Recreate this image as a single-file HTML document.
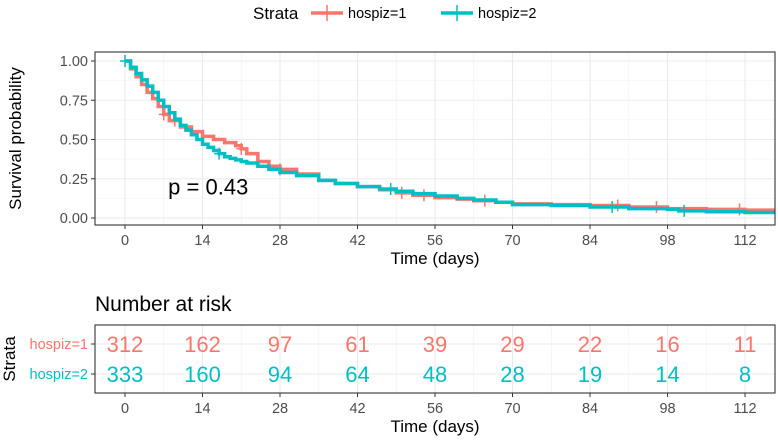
<!DOCTYPE html>
<html><head><meta charset="utf-8">
<style>
body{margin:0;background:#fff;}
svg{display:block;font-family:"Liberation Sans",sans-serif;}
</style></head>
<body>
<svg id="chart" width="778" height="442" viewBox="0 0 778 442">
</svg>
<script>
const timeTicks=[0,14,28,42,56,70,84,98,112];
const probTicks=[0,0.25,0.5,0.75,1];
const probTickLabels=["0.00","0.25","0.50","0.75","1.00"];
const redTimes=[0,1,2,3,4,5,6,7,8,10,12,14,16,18,20,21,22,24,26,28,31,35,38,42,46,49,52,56,60,63,67,70,77,84,91,98,105,112,118];
const redSurv=[1,0.95,0.9,0.85,0.8,0.76,0.71,0.66,0.62,0.58,0.55,0.52,0.5,0.48,0.46,0.44,0.41,0.36,0.33,0.31,0.28,0.24,0.22,0.20,0.18,0.16,0.145,0.13,0.12,0.11,0.10,0.09,0.085,0.08,0.07,0.06,0.055,0.05,0.05];
const tealTimes=[0,1,2,3,4,5,6,7,8,9,10,11,12,13,14,15,16,17,18,19,20,21,22,24,26,28,31,35,38,42,46,49,52,56,60,63,67,70,77,84,91,98,100,105,112,118];
const tealSurv=[1,0.96,0.92,0.88,0.84,0.8,0.75,0.71,0.67,0.63,0.59,0.56,0.53,0.5,0.47,0.45,0.43,0.41,0.39,0.38,0.37,0.36,0.35,0.33,0.31,0.29,0.27,0.24,0.22,0.20,0.185,0.17,0.155,0.14,0.125,0.115,0.10,0.085,0.08,0.07,0.06,0.055,0.045,0.04,0.035,0.035];
const redCensor=[7,9,21,28,50,54,65,89,96,111];
const tealCensor=[0,17,48,88,101];
const riskRed=[312,162,97,61,39,29,22,16,11];
const riskTeal=[333,160,94,64,48,28,19,14,8];

const RED="#F8766D",TEAL="#00BFC4";
const svg=document.getElementById('chart');
const NS="http://www.w3.org/2000/svg";
function el(tag,attrs,parent){const e=document.createElementNS(NS,tag);for(const k in attrs)e.setAttribute(k,attrs[k]);(parent||svg).appendChild(e);return e;}
function tx(x,y,s,attrs){const e=el('text',Object.assign({x:x,y:y},attrs));e.textContent=s;return e;}

const X0=95,X1=775;
const xs=t=>125+t*5.536;
const P={top:52,bottom:225};
const ys=p=>218-p*157;

let g=el('g',{});


el('rect',{x:X0,y:P.top,width:X1-X0,height:P.bottom-P.top,fill:'#fff'},g);
for(let i=0;i<timeTicks.length-1;i++){const m=xs((timeTicks[i]+timeTicks[i+1])/2);el('line',{x1:m,x2:m,y1:P.top,y2:P.bottom,stroke:'#f0f0f0','stroke-width':0.6},g);}
for(let i=0;i<probTicks.length-1;i++){const m=ys((probTicks[i]+probTicks[i+1])/2);el('line',{x1:X0,x2:X1,y1:m,y2:m,stroke:'#f0f0f0','stroke-width':0.6},g);}
timeTicks.forEach(t=>{el('line',{x1:xs(t),x2:xs(t),y1:P.top,y2:P.bottom,stroke:'#ebebeb','stroke-width':1.1},g);});
probTicks.forEach((p,i)=>{el('line',{x1:X0,x2:X1,y1:ys(p),y2:ys(p),stroke:'#ebebeb','stroke-width':1.1},g);
 el('line',{x1:X0-4,x2:X0,y1:ys(p),y2:ys(p),stroke:'#333'},g);
 const l=tx(X0-7,ys(p)+5,probTickLabels[i],{'text-anchor':'end','font-size':14.5,fill:'#4d4d4d'},);
 });
function stepPath(T,S){let d='M'+xs(T[0])+','+ys(S[0]);for(let i=1;i<T.length;i++){d+='H'+xs(T[i])+'V'+ys(S[i]);}return d;}
function survAt(T,S,t){let v=S[0];for(let i=0;i<T.length;i++){if(T[i]<=t)v=S[i];}return v;}
const cp=el('clipPath',{id:'cp'});el('rect',{x:X0,y:P.top,width:X1-X0,height:P.bottom-P.top},cp);
[[redTimes,redSurv,redCensor,RED,'red'],[tealTimes,tealSurv,tealCensor,TEAL,'teal']].forEach(([T,S,C,col,n])=>{
 const p=el('path',{d:stepPath(T,S),fill:'none',stroke:col,'stroke-width':3.5,'clip-path':'url(#cp)'},g);
 
 C.forEach(t=>{const x=xs(t),y=ys(survAt(T,S,t));
  const m=el('path',{d:`M${x-5},${y}H${x+5}M${x},${y-6}V${y+6}`,stroke:col,'stroke-width':1.5},g);
  });
});
el('rect',{x:X0,y:P.top,width:X1-X0,height:P.bottom-P.top,fill:'none',stroke:'#333','stroke-width':1.1},g);
timeTicks.forEach(t=>{el('line',{x1:xs(t),x2:xs(t),y1:P.bottom,y2:P.bottom+4,stroke:'#333'},g);
 const l=tx(xs(t),P.bottom+20,String(t),{'text-anchor':'middle','font-size':14.5,fill:'#4d4d4d'});
 });
let t1=tx(xs(56),P.bottom+39,'Time (days)',{'text-anchor':'middle','font-size':17,fill:'#000'});

let yt=tx(0,0,'Survival probability',{'text-anchor':'middle','font-size':17,fill:'#000',transform:`translate(21,${(P.top+P.bottom)/2}) rotate(-90)`});

let pv=tx(xs(7.8),ys(0.15),'p = 0.43',{'font-size':22,fill:'#000'});


let lg=el('g',{});

tx(253,19,'Strata',{'font-size':17,fill:'#000'});
[[RED,'hospiz=1',311],[TEAL,'hospiz=2',441]].forEach(([c,s,x])=>{
 const e=el('g',{},lg);
 el('line',{x1:x,x2:x+32,y1:13,y2:13,stroke:c,'stroke-width':3.5},e);
 el('line',{x1:x+16,x2:x+16,y1:5,y2:21,stroke:c,'stroke-width':1.5},e);
 tx(x+37,18,s,{'font-size':14.5,fill:'#000'});
 
});

const R={top:325,bottom:393};
let rg=el('g',{});

let rt=tx(X0,311,'Number at risk',{'font-size':21,fill:'#000'});

for(let i=0;i<timeTicks.length-1;i++){const m=xs((timeTicks[i]+timeTicks[i+1])/2);el('line',{x1:m,x2:m,y1:R.top,y2:R.bottom,stroke:'#f0f0f0','stroke-width':0.6},rg);}
timeTicks.forEach(t=>el('line',{x1:xs(t),x2:xs(t),y1:R.top,y2:R.bottom,stroke:'#ebebeb','stroke-width':1.1},rg));
const rowY=[344,374];
rowY.forEach(y=>el('line',{x1:X0,x2:X1,y1:y,y2:y,stroke:'#ebebeb','stroke-width':1.1},rg));
[[riskRed,RED,'hospiz=1'],[riskTeal,TEAL,'hospiz=2']].forEach(([arr,c,lab],ri)=>{
 arr.forEach((v,i)=>{const e=tx(xs(timeTicks[i]),rowY[ri]+8,String(v),{'text-anchor':'middle','font-size':22,fill:c});
  });
 el('line',{x1:X0-4,x2:X0,y1:rowY[ri],y2:rowY[ri],stroke:'#333'},rg);
 const l=tx(X0-7,rowY[ri]+5,lab,{'text-anchor':'end','font-size':14.5,fill:c});
 
});
el('rect',{x:X0,y:R.top,width:X1-X0,height:R.bottom-R.top,fill:'none',stroke:'#333','stroke-width':1.1},rg);
timeTicks.forEach(t=>{el('line',{x1:xs(t),x2:xs(t),y1:R.bottom,y2:R.bottom+4,stroke:'#333'},rg);
 const l=tx(xs(t),R.bottom+20,String(t),{'text-anchor':'middle','font-size':14.5,fill:'#4d4d4d'});
 });
let t2=tx(xs(56),R.bottom+39,'Time (days)',{'text-anchor':'middle','font-size':17,fill:'#000'});

let st=tx(0,0,'Strata',{'text-anchor':'middle','font-size':17,fill:'#000',transform:`translate(15,${(R.top+R.bottom)/2}) rotate(-90)`});

</script>
</body></html>
